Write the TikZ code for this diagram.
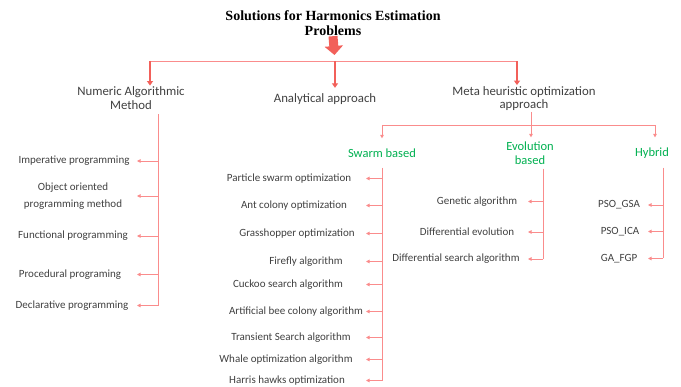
\documentclass[tikz,border=0pt]{standalone}
\usepackage{fontspec}
\setmainfont{Carlito}
\newfontfamily\titlefont{Liberation Serif}
\usetikzlibrary{arrows.meta}
\newlength{\du}
\setlength{\du}{1pt}
\definecolor{linecolor}{RGB}{250,140,140}
\definecolor{arrowcolor}{RGB}{242,96,90}
\definecolor{textcolor}{RGB}{64,64,64}
\definecolor{groupcolor}{RGB}{0,176,80}
\tikzset{
  itemtext/.style={text=textcolor, font=\fontsize{11}{14}\selectfont, align=center, inner sep=0pt},
  headtext/.style={itemtext, font=\fontsize{12.8}{13.5}\selectfont},
  grouptext/.style={itemtext, text=groupcolor, font=\fontsize{12.5}{14}\selectfont},
  trunk/.style={draw=linecolor, line width=0.9\du},
  branch/.style={trunk, -{Triangle[length=3.5pt,width=3.5pt]}},
  mainarrow/.style={draw=arrowcolor, line width=2.6\du, -{Triangle[length=4.5pt,width=6pt]}},
  bigarrow/.style={draw=arrowcolor, line width=9\du, -{Triangle[length=9pt,width=18pt]}},
}

\begin{document}
\begin{tikzpicture}
\pgftransformxscale{1.000000}
\pgftransformyscale{-1.000000}
\useasboundingbox (0.000000\du,0.000000\du) rectangle (681.000000\du,387.000000\du);
% setfont left to latex
\node[align=center, inner sep=0pt, font=\titlefont\bfseries\fontsize{14}{15}\selectfont] (title) at (333.000000\du,23.500000\du){Solutions for Harmonics Estimation\\Problems};
\node[headtext] (numeric) at (131.000000\du,98.000000\du){Numeric Algorithmic\\Method};
\node[headtext] (analytical) at (325.000000\du,99.500000\du){Analytical approach};
\node[headtext] (meta) at (524.000000\du,98.500000\du){Meta heuristic optimization\\approach};
% junctions
\coordinate (hub) at (335.000000\du,61.000000\du);
\coordinate (barleft) at (150.000000\du,61.000000\du);
\coordinate (barright) at (517.000000\du,61.000000\du);
\draw[bigarrow, shorten >=6pt] (title.south) -- (hub);
\draw[trunk] (barleft) -- (barright);
\draw[mainarrow, shorten >=1pt] (barleft) -- (barleft |- numeric.north);
\draw[mainarrow, shorten >=6pt] (hub) -- (hub |- analytical.north);
\draw[mainarrow, shorten >=1pt] (barright) -- (barright |- meta.north);
% setfont left to latex
\node[grouptext] (swarm) at (382.000000\du,153.000000\du){Swarm based};
\node[grouptext] (evolution) at (530.000000\du,153.000000\du){Evolution\\based};
\node[grouptext] (hybrid) at (652.000000\du,153.000000\du){Hybrid};
\coordinate (metabar) at (531.000000\du,125.000000\du);
\coordinate (swarmbar) at (382.000000\du,125.000000\du);
\coordinate (hybridbar) at (655.000000\du,125.000000\du);
\draw[trunk, shorten <=1pt] (meta.south -| metabar) -- (metabar);
\draw[trunk] (swarmbar) -- (hybridbar);
\draw[branch, shorten >=10pt] (swarmbar) -- (swarmbar |- swarm.north);
\draw[branch, shorten >=4pt] (metabar) -- (metabar |- evolution.north);
\draw[branch, shorten >=10pt] (hybridbar) -- (hybridbar |- hybrid.north);
% numeric methods
\node[itemtext] (imp) at (74.000000\du,161.000000\du){Imperative programming};
\node[itemtext, font=\fontsize{11}{17}\selectfont] (oop) at (73.000000\du,196.000000\du){Object oriented\\programming method};
\node[itemtext] (func) at (73.000000\du,236.000000\du){Functional programming};
\node[itemtext] (proc) at (70.000000\du,274.500000\du){Procedural programing};
\node[itemtext] (decl) at (72.000000\du,305.500000\du){Declarative programming};
\coordinate (numspine) at (158.000000\du,306.000000\du);
\coordinate (numtip) at (137.000000\du,306.000000\du);
\draw[trunk, shorten <=5pt] (numeric.south -| numspine) -- (numspine);
\foreach \n in {imp,oop,func,proc,decl}
  \draw[branch] (\n -| numspine) -- (\n -| numtip);
% swarm based
\node[itemtext] (pso) at (289.000000\du,178.500000\du){Particle swarm optimization};
\node[itemtext] (aco) at (294.000000\du,205.500000\du){Ant colony optimization};
\node[itemtext] (gho) at (297.000000\du,233.500000\du){Grasshopper optimization};
\node[itemtext] (ffa) at (306.000000\du,261.500000\du){Firefly algorithm};
\node[itemtext] (csa) at (288.000000\du,284.500000\du){Cuckoo search algorithm};
\node[itemtext] (abc) at (296.000000\du,311.500000\du){Artificial bee colony algorithm};
\node[itemtext] (tsa) at (291.000000\du,337.500000\du){Transient Search algorithm};
\node[itemtext] (woa) at (286.000000\du,359.500000\du){Whale optimization algorithm};
\node[itemtext] (hho) at (287.000000\du,380.500000\du){Harris hawks optimization};
\coordinate (swarmspine) at (382.000000\du,381.000000\du);
\coordinate (swarmtip) at (366.000000\du,381.000000\du);
\draw[trunk, shorten <=10pt] (swarm.south -| swarmspine) -- (swarmspine);
\foreach \n in {pso,aco,gho,ffa,csa,abc,tsa,woa,hho}
  \draw[branch] (\n -| swarmspine) -- (\n -| swarmtip);
% evolution based
\node[itemtext] (ga) at (477.000000\du,201.500000\du){Genetic algorithm};
\node[itemtext] (de) at (467.000000\du,232.000000\du){Differential evolution};
\node[itemtext] (dsa) at (456.000000\du,259.000000\du){Differential search algorithm};
\coordinate (evospine) at (543.000000\du,259.000000\du);
\coordinate (evotip) at (528.000000\du,259.000000\du);
\draw[trunk, shorten <=4pt] (evolution.south -| evospine) -- (evospine);
\foreach \n in {ga,de,dsa}
  \draw[branch] (\n -| evospine) -- (\n -| evotip);
% hybrid
\node[itemtext] (gsa) at (619.000000\du,205.000000\du){PSO\_GSA};
\node[itemtext] (ica) at (620.000000\du,231.500000\du){PSO\_ICA};
\node[itemtext] (fgp) at (619.000000\du,258.500000\du){GA\_FGP};
\coordinate (hybspine) at (663.000000\du,258.500000\du);
\coordinate (hybtip) at (648.000000\du,258.500000\du);
\draw[trunk, shorten <=9pt] (hybrid.south -| hybspine) -- (hybspine);
\foreach \n in {gsa,ica,fgp}
  \draw[branch] (\n -| hybspine) -- (\n -| hybtip);
\end{tikzpicture}
\end{document}
